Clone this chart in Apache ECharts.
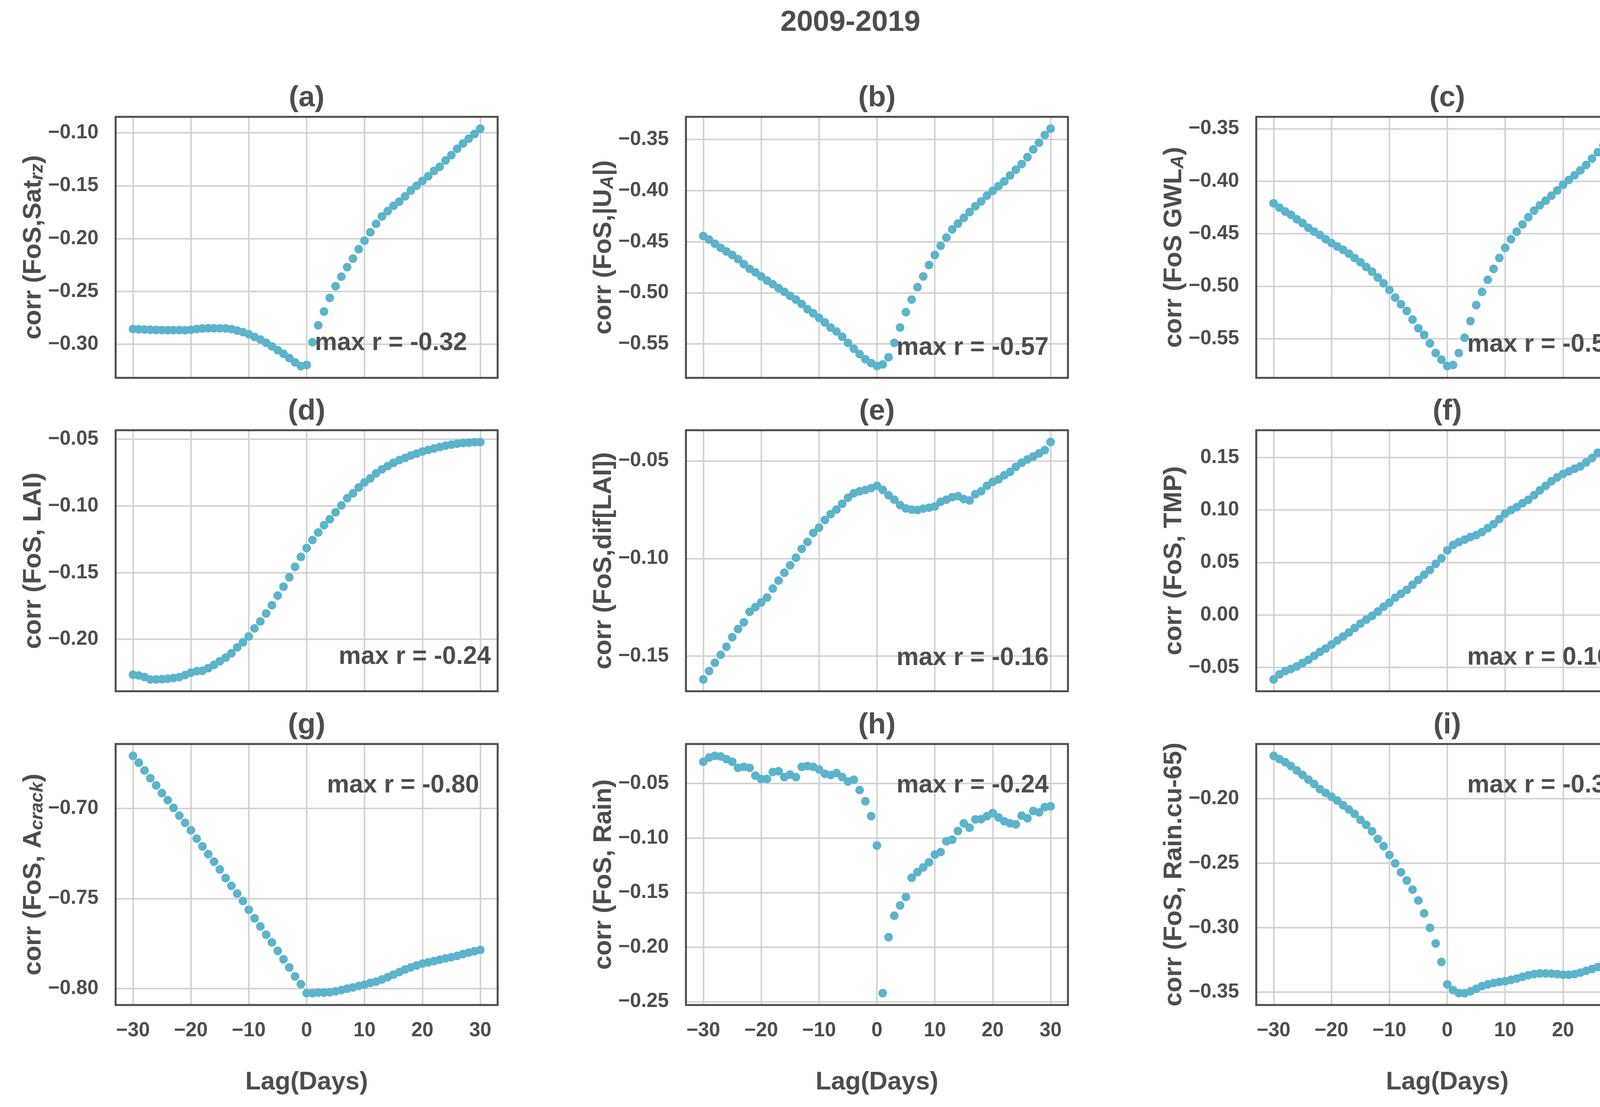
<!DOCTYPE html>
<html>
<head>
<meta charset="utf-8">
<script src="https://cdn.jsdelivr.net/npm/echarts@6/dist/echarts.min.js"></script>
<style>
html,body{margin:0;padding:0;background:#ffffff;}
#chart{width:4222px;height:2833px;}
</style>
</head>
<body>
<div id="chart"></div>
<script>
// ---------------- data ----------------
const lags = [-30,-29,-28,-27,-26,-25,-24,-23,-22,-21,-20,-19,-18,-17,-16,-15,-14,-13,-12,-11,-10,-9,-8,-7,-6,-5,-4,-3,-2,-1,0,
  1,2,3,4,5,6,7,8,9,10,11,12,13,14,15,16,17,18,19,20,21,22,23,24,25,26,27,28,29,30];

const corrSatRz = [-0.2855,-0.2858,-0.2860,-0.2862,-0.2864,-0.2865,-0.2866,-0.2866,-0.2865,-0.2866,-0.2862,-0.2855,-0.2850,-0.2848,-0.2848,-0.2849,-0.2850,-0.2856,-0.2870,-0.2885,-0.2905,-0.2930,-0.2955,-0.2985,-0.3020,-0.3055,-0.3090,-0.3130,-0.3170,-0.3205,-0.3195,
  -0.2980,-0.2820,-0.2690,-0.2560,-0.2450,-0.2360,-0.2270,-0.2190,-0.2100,-0.2020,-0.1940,-0.1860,-0.1790,-0.1740,-0.1690,-0.1650,-0.1600,-0.1545,-0.1500,-0.1455,-0.1410,-0.1360,-0.1320,-0.1260,-0.1210,-0.1150,-0.1100,-0.1055,-0.1010,-0.0960];

const corrAbsUA = [-0.4445,-0.4480,-0.4520,-0.4560,-0.4596,-0.4630,-0.4670,-0.4720,-0.4766,-0.4800,-0.4840,-0.4880,-0.4916,-0.4954,-0.4990,-0.5030,-0.5067,-0.5110,-0.5160,-0.5200,-0.5245,-0.5290,-0.5340,-0.5378,-0.5430,-0.5490,-0.5547,-0.5600,-0.5650,-0.5688,-0.5716,
  -0.5700,-0.5630,-0.5490,-0.5340,-0.5190,-0.5067,-0.4945,-0.4840,-0.4728,-0.4630,-0.4540,-0.4460,-0.4380,-0.4323,-0.4267,-0.4210,-0.4153,-0.4106,-0.4050,-0.4003,-0.3956,-0.3910,-0.3852,-0.3796,-0.3740,-0.3673,-0.3598,-0.3532,-0.3457,-0.3395];

const corrGwlA = [-0.4210,-0.4252,-0.4289,-0.4320,-0.4362,-0.4398,-0.4444,-0.4480,-0.4513,-0.4553,-0.4589,-0.4622,-0.4653,-0.4690,-0.4731,-0.4771,-0.4817,-0.4862,-0.4917,-0.4972,-0.5036,-0.5108,-0.5172,-0.5236,-0.5318,-0.5400,-0.5464,-0.5545,-0.5637,-0.5700,-0.5760,
  -0.5750,-0.5637,-0.5491,-0.5332,-0.5181,-0.5054,-0.4939,-0.4835,-0.4731,-0.4635,-0.4553,-0.4480,-0.4411,-0.4343,-0.4280,-0.4229,-0.4185,-0.4138,-0.4088,-0.4034,-0.3988,-0.3943,-0.3897,-0.3846,-0.3784,-0.3724,-0.3657,-0.3597,-0.3542,-0.3500];

const corrLai = [-0.2265,-0.2271,-0.2283,-0.2300,-0.2300,-0.2298,-0.2295,-0.2290,-0.2283,-0.2268,-0.2250,-0.2238,-0.2236,-0.2216,-0.2191,-0.2164,-0.2137,-0.2104,-0.2060,-0.2022,-0.1978,-0.1918,-0.1866,-0.1806,-0.1744,-0.1672,-0.1605,-0.1535,-0.1456,-0.1382,-0.1315,
  -0.1255,-0.1199,-0.1144,-0.1099,-0.1047,-0.0995,-0.0942,-0.0905,-0.0861,-0.0823,-0.0793,-0.0756,-0.0726,-0.0701,-0.0677,-0.0656,-0.0640,-0.0622,-0.0607,-0.0592,-0.0580,-0.0569,-0.0558,-0.0548,-0.0540,-0.0533,-0.0528,-0.0525,-0.0522,-0.0521];

const corrDifLai = [-0.1619,-0.1576,-0.1534,-0.1493,-0.1452,-0.1403,-0.1361,-0.1327,-0.1273,-0.1249,-0.1225,-0.1200,-0.1154,-0.1113,-0.1073,-0.1035,-0.0996,-0.0951,-0.0915,-0.0869,-0.0842,-0.0803,-0.0773,-0.0750,-0.0720,-0.0689,-0.0666,-0.0656,-0.0649,-0.0640,-0.0628,
  -0.0649,-0.0676,-0.0699,-0.0727,-0.0744,-0.0750,-0.0752,-0.0745,-0.0740,-0.0734,-0.0710,-0.0699,-0.0686,-0.0681,-0.0696,-0.0703,-0.0671,-0.0656,-0.0628,-0.0608,-0.0595,-0.0574,-0.0557,-0.0531,-0.0510,-0.0493,-0.0478,-0.0462,-0.0445,-0.0404];

const corrTmp = [-0.0614,-0.0566,-0.0534,-0.0515,-0.0491,-0.0458,-0.0428,-0.0390,-0.0352,-0.0320,-0.0282,-0.0244,-0.0206,-0.0168,-0.0125,-0.0083,-0.0045,-0.0009,0.0032,0.0078,0.0116,0.0164,0.0201,0.0239,0.0287,0.0334,0.0382,0.0429,0.0486,0.0539,0.0615,
  0.0666,0.0694,0.0717,0.0742,0.0761,0.0789,0.0827,0.0865,0.0912,0.0964,0.0998,0.1026,0.1064,0.1096,0.1140,0.1187,0.1229,0.1273,0.1310,0.1343,0.1367,0.1392,0.1415,0.1453,0.1494,0.1544,0.1566,0.1595,0.1623,0.1646];

const corrACrack = [-0.6708,-0.6746,-0.6789,-0.6832,-0.6872,-0.6915,-0.6954,-0.6997,-0.7040,-0.7080,-0.7121,-0.7168,-0.7211,-0.7254,-0.7296,-0.7339,-0.7387,-0.7430,-0.7473,-0.7514,-0.7563,-0.7610,-0.7655,-0.7701,-0.7744,-0.7791,-0.7838,-0.7883,-0.7933,-0.7976,-0.8026,
  -0.8026,-0.8023,-0.8023,-0.8021,-0.8016,-0.8009,-0.8001,-0.7994,-0.7986,-0.7979,-0.7969,-0.7962,-0.7950,-0.7937,-0.7923,-0.7909,-0.7895,-0.7883,-0.7872,-0.7862,-0.7855,-0.7848,-0.7840,-0.7833,-0.7826,-0.7819,-0.7809,-0.7801,-0.7793,-0.7786];

const corrRain = [-0.0300,-0.0262,-0.0246,-0.0251,-0.0276,-0.0300,-0.0356,-0.0347,-0.0356,-0.0427,-0.0458,-0.0458,-0.0394,-0.0387,-0.0441,-0.0418,-0.0441,-0.0347,-0.0340,-0.0347,-0.0371,-0.0411,-0.0422,-0.0404,-0.0441,-0.0481,-0.0465,-0.0559,-0.0662,-0.0799,-0.1069,
  -0.2422,-0.1909,-0.1712,-0.1618,-0.1540,-0.1364,-0.1312,-0.1269,-0.1222,-0.1152,-0.1128,-0.1029,-0.1015,-0.0935,-0.0865,-0.0905,-0.0829,-0.0827,-0.0799,-0.0771,-0.0811,-0.0846,-0.0865,-0.0874,-0.0794,-0.0818,-0.0752,-0.0764,-0.0716,-0.0709];

const corrRainCu65 = [-0.1669,-0.1694,-0.1718,-0.1748,-0.1782,-0.1817,-0.1853,-0.1887,-0.1927,-0.1956,-0.1986,-0.2016,-0.2052,-0.2085,-0.2119,-0.2165,-0.2204,-0.2254,-0.2313,-0.2369,-0.2437,-0.2502,-0.2571,-0.2635,-0.2706,-0.2790,-0.2889,-0.3002,-0.3123,-0.3266,-0.3440,
  -0.3484,-0.3508,-0.3508,-0.3494,-0.3474,-0.3454,-0.3440,-0.3429,-0.3421,-0.3415,-0.3405,-0.3395,-0.3381,-0.3369,-0.3361,-0.3355,-0.3355,-0.3357,-0.3361,-0.3365,-0.3365,-0.3361,-0.3349,-0.3335,-0.3321,-0.3306,-0.3286,-0.3266,-0.3246,-0.3226];

const panelTitles = ['(a)','(b)','(c)','(d)','(e)','(f)','(g)','(h)','(i)'];
const panelSeries = [corrSatRz, corrAbsUA, corrGwlA, corrLai, corrDifLai, corrTmp, corrACrack, corrRain, corrRainCu65];
const yLabels = [
  '{m|corr (FoS,Sat}{s|rz}{m|)}',
  '{m|corr (FoS,|U}{s|A}{m||)}',
  '{m|corr (FoS GWL}{s|A}{m|)}',
  '{m|corr (FoS, LAI)}',
  '{m|corr (FoS,dif[LAI])}',
  '{m|corr (FoS, TMP)}',
  '{m|corr (FoS, A}{s|crack}{m|)}',
  '{m|corr (FoS, Rain)}',
  '{m|corr (FoS, Rain.cu-65)}'
];
const maxRTexts = ['max r = -0.32','max r = -0.57','max r = -0.58','max r = -0.24','max r = -0.16','max r = 0.16','max r = -0.80','max r = -0.24','max r = -0.34'];
const suptitle = '2009-2019';
const xLabel = 'Lag(Days)';
const xTickStep = 10;
const yTickStep = 0.05;

// ---------------- layout / style ----------------
const FONT = '"Liberation Sans", Arial, Helvetica, sans-serif';
const TEXT = '#4c4d4f';
const GRIDC = '#d3d3d3';
const DOT = '#5bb4cb';
const colLeft = [296, 1756, 3216];
const rowTop = [299, 1101, 1904];
const W = 978, H = 668;
const notePos = [[806,900],[2295,912],[3756,904],[867,1703],[2295,1706],[3756,1705],[837,2032],[2295,2032],[3756,2032]];

function fmtY(v){ const s = Math.abs(v).toFixed(2); return (v < -1e-9 ? '\u2212' : '') + s; }
function fmtX(v){ return v < 0 ? '\u2212' + Math.abs(v) : String(v); }

const grids = [], xAxes = [], yAxes = [], series = [], graphics = [];

graphics.push({type:'text', x:2177, y:58, z:100,
  style:{text:suptitle, fill:TEXT, fontFamily:FONT, fontSize:75, fontWeight:'bold', align:'center', verticalAlign:'middle'}});

panelSeries.forEach((vals, i) => {
  const r = Math.floor(i/3), c = i % 3;
  const left = colLeft[c], top = rowTop[r];
  grids.push({left:left, top:top, width:W, height:H, show:true, z:1,
    borderColor:TEXT, borderWidth:5, backgroundColor:'transparent', containLabel:false});
  const dmin = Math.min.apply(null, vals), dmax = Math.max.apply(null, vals);
  const pad = (dmax - dmin) * 0.05;
  const xmin = lags[0] - (lags[lags.length-1]-lags[0])*0.05;
  const xmax = lags[lags.length-1] + (lags[lags.length-1]-lags[0])*0.05;
  xAxes.push({type:'value', gridIndex:i, min:xmin, max:xmax, minInterval:xTickStep, maxInterval:xTickStep,
    axisLine:{show:false, onZero:false}, axisTick:{show:false},
    splitLine:{show:true, showMinLine:false, showMaxLine:false, lineStyle:{color:GRIDC, width:4}},
    axisLabel:{show: r === 2, showMinLabel:false, showMaxLabel:false, formatter:fmtX,
      color:TEXT, fontFamily:FONT, fontSize:51, fontWeight:'bold', lineHeight:51, margin:40},
    name: r === 2 ? xLabel : '', nameLocation:'middle', nameGap:166,
    nameTextStyle:{color:TEXT, fontFamily:FONT, fontSize:65, fontWeight:'bold', lineHeight:65}
  });
  yAxes.push({type:'value', gridIndex:i, min:dmin - pad, max:dmax + pad, minInterval:yTickStep, maxInterval:yTickStep,
    axisLine:{show:false, onZero:false}, axisTick:{show:false},
    splitLine:{show:true, showMinLine:false, showMaxLine:false, lineStyle:{color:GRIDC, width:4}},
    axisLabel:{show:true, showMinLabel:false, showMaxLabel:false, formatter:fmtY,
      color:TEXT, fontFamily:FONT, fontSize:51, fontWeight:'bold', margin:44},
    name: yLabels[i], nameLocation:'middle', nameGap:176,
    nameTextStyle:{color:TEXT, fontFamily:FONT, fontSize:65, fontWeight:'bold', lineHeight:65,
      rich:{
        m:{color:TEXT, fontFamily:FONT, fontSize:65, fontWeight:'bold', lineHeight:65},
        s:{color:TEXT, fontFamily:FONT, fontSize:47, fontWeight:'bold', fontStyle:'italic', lineHeight:24, verticalAlign:'bottom'}
      }}
  });
  series.push({type:'scatter', xAxisIndex:i, yAxisIndex:i, symbol:'circle', symbolSize:22, z:2,
    itemStyle:{color:DOT, opacity:1}, emphasis:{disabled:true},
    data: lags.map((l, j) => [l, vals[j]])});
  graphics.push({type:'text', x:left + W/2, y:top - 48, z:100,
    style:{text:panelTitles[i], fill:TEXT, fontFamily:FONT, fontSize:75, fontWeight:'bold', align:'center', verticalAlign:'middle'}});
  graphics.push({type:'text', x:notePos[i][0], y:notePos[i][1] - 22, z:100,
    style:{text:maxRTexts[i], fill:TEXT, fontFamily:FONT, fontSize:64, fontWeight:'bold', align:'left', verticalAlign:'middle'}});
});

const chart = echarts.init(document.getElementById('chart'), null, {renderer:'canvas'});
chart.setOption({
  animation:false,
  backgroundColor:'#ffffff',
  grid:grids, xAxis:xAxes, yAxis:yAxes, series:series, graphic:graphics
});
</script>
</body>
</html>
